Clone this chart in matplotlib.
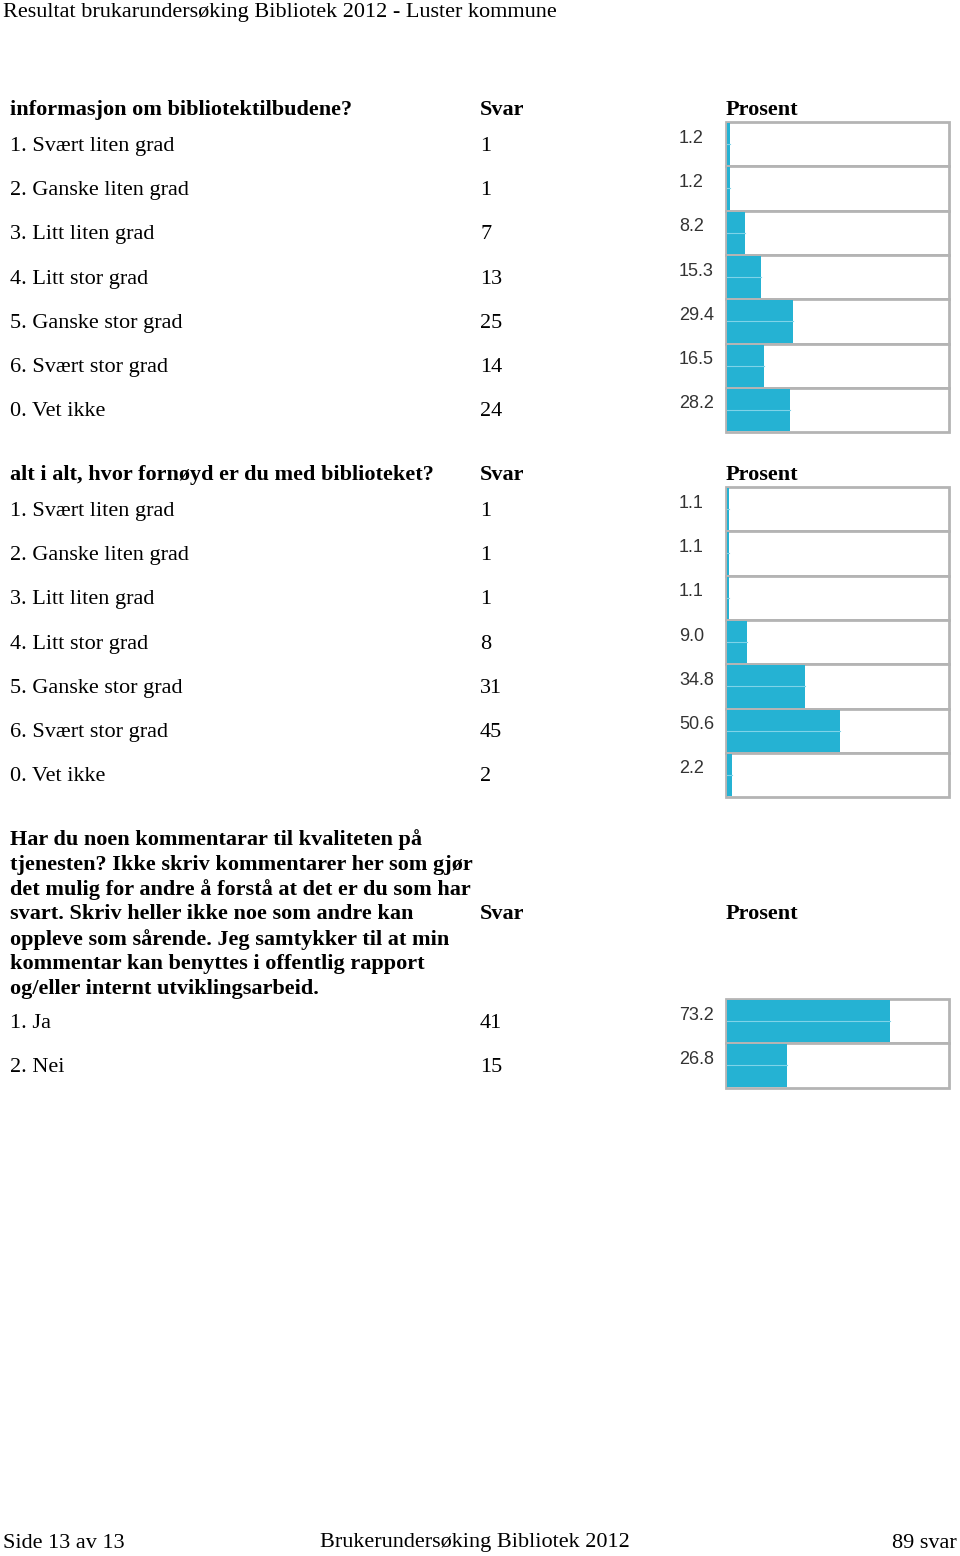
import matplotlib.pyplot as plt

# Data
labels_1 = ['1. Svært liten grad', '2. Ganske liten grad', '3. Litt liten grad',
            '4. Litt stor grad', '5. Ganske stor grad', '6. Svært stor grad', '0. Vet ikke']
svar_1 = [1, 1, 7, 13, 25, 14, 24]
pct_1 = [1.2, 1.2, 8.2, 15.3, 29.4, 16.5, 28.2]

labels_2 = labels_1
svar_2 = [1, 1, 1, 8, 31, 45, 2]
pct_2 = [1.1, 1.1, 1.1, 9.0, 34.8, 50.6, 2.2]

labels_3 = ['1. Ja', '2. Nei']
svar_3 = [41, 15]
pct_3 = [73.2, 26.8]

q1 = 'informasjon om bibliotektilbudene?'
q2 = 'alt i alt, hvor fornøyd er du med biblioteket?'
q3 = ['Har du noen kommentarar til kvaliteten på',
      'tjenesten? Ikke skriv kommentarer her som gjør',
      'det mulig for andre å forstå at det er du som har',
      'svart. Skriv heller ikke noe som andre kan',
      'oppleve som sårende. Jeg samtykker til at min',
      'kommentar kan benyttes i offentlig rapport',
      'og/eller internt utviklingsarbeid.']

W, H = 960, 1556
fig = plt.figure(figsize=(W / 100, H / 100), dpi=100)
ax = fig.add_axes([0, 0, 1, 1])
ax.set_xlim(0, W)
ax.set_ylim(H, 0)
ax.axis('off')

serif = 'Liberation Serif'
sans = 'Liberation Sans'
fs = 16
bar_col = '#25b2d3'
box_x, box_w, row_h = 726, 223, 44.3
dy = 2  # text baseline nudge


def section(header_y, box_top, labels, svar, pct, header=None):
    if header is not None:
        ax.text(10, header_y + dy, header, fontsize=fs, fontweight='bold',
                family=serif, va='center')
    ax.text(480, header_y + dy, 'Svar', fontsize=fs, fontweight='bold',
            family=serif, va='center')
    ax.text(726, header_y + dy, 'Prosent', fontsize=fs, fontweight='bold',
            family=serif, va='center')
    ys = [box_top + row_h * (i + 0.5) for i in range(len(labels))]
    widths = [p / 100 * box_w for p in pct]
    # white boxes with grey frame
    ax.barh(ys, [box_w] * len(ys), height=row_h, left=box_x,
            color='white', edgecolor='#b4b4b4', linewidth=2, zorder=1)
    ax.barh(ys, widths, height=row_h - 2, left=box_x + 1,
            color=bar_col, linewidth=0, zorder=2)
    for y, w in zip(ys, widths):
        ax.plot([box_x + 1, box_x + 1 + w], [y, y], color='#7fd3e8',
                lw=0.8, zorder=3)
    for lab, s, p, y in zip(labels, svar, pct, ys):
        ax.text(10, y + dy, lab, fontsize=fs, family=serif, va='center')
        ax.text(480, y + dy, str(s), fontsize=fs, family=serif, va='center')
        ax.text(679, y - 6, f'{p:.1f}', fontsize=13, family=sans,
                color='#333333', va='center')


ax.text(3, 12, 'Resultat brukarundersøking Bibliotek 2012 - Luster kommune',
        fontsize=fs, family=serif, va='center')

section(108, 122, labels_1, svar_1, pct_1, q1)
section(473, 487, labels_2, svar_2, pct_2, q2)

for i, line in enumerate(q3):
    ax.text(10, 838 + dy + i * 24.8, line, fontsize=fs, fontweight='bold',
            family=serif, va='center')
section(912, 999, labels_3, svar_3, pct_3)

ax.text(3, 1543, 'Side 13 av 13', fontsize=fs, family=serif, va='center')
ax.text(475, 1543, 'Brukerundersøking Bibliotek 2012', fontsize=fs,
        family=serif, va='center', ha='center')
ax.text(957, 1543, '89 svar', fontsize=fs, family=serif, va='center',
        ha='right')

fig.savefig('out.png', dpi=100)
